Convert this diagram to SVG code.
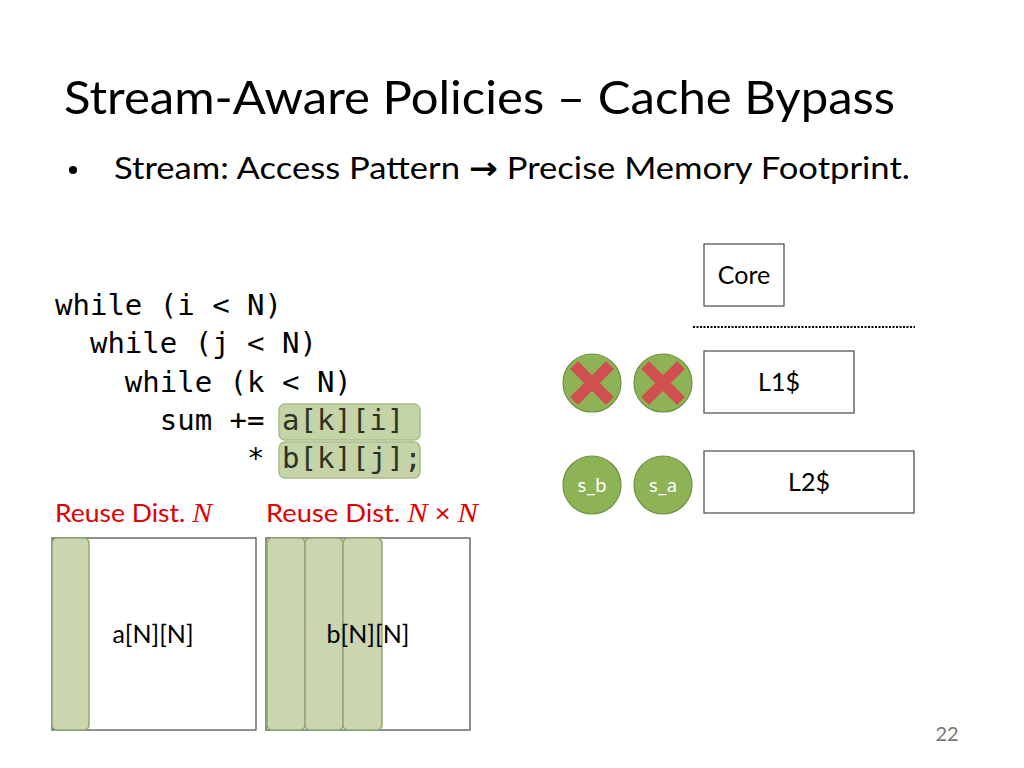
<svg xmlns="http://www.w3.org/2000/svg" width="1024" height="768" viewBox="0 0 1024 768">
<style>
.t{font-family:Lato,"Liberation Sans",sans-serif;fill:#000}
.c{font-family:"DejaVu Sans Mono",monospace;font-size:29px;fill:#000}
.box{fill:#fff;stroke:#555;stroke-width:1.3}
.hl{fill:#c5d3a8;stroke:#a9bd88;stroke-width:1.5}
.col{fill:#c9d6b0;stroke:#8fa870;stroke-width:1.5}
.ball{fill:#8db356;stroke:#6f9240;stroke-width:1.2}
.x{stroke:#d05050;stroke-width:11;stroke-linecap:butt}
.red{font-family:Lato,"Liberation Sans",sans-serif;font-size:25px;fill:#e00000}
</style>
<rect width="1024" height="768" fill="#fff"/>
<text class="t" x="64" y="114" font-size="47" textLength="831" lengthAdjust="spacingAndGlyphs">Stream-Aware Policies – Cache Bypass</text>
<circle cx="73" cy="170" r="4" fill="#000"/>
<text class="t" x="114" y="179" font-size="31" textLength="796" lengthAdjust="spacingAndGlyphs">Stream: Access Pattern <tspan font-family="DejaVu Sans" font-weight="bold">→</tspan> Precise Memory Footprint.</text>
<g id="code">
<rect class="hl" x="279" y="404" width="141" height="36" rx="6"/>
<rect class="hl" x="279" y="442" width="141" height="36" rx="6"/>
<text class="c" x="55" y="315">while (i &lt; N)</text>
<text class="c" x="55" y="353" xml:space="preserve">  while (j &lt; N)</text>
<text class="c" x="55" y="392" xml:space="preserve">    while (k &lt; N)</text>
<text class="c" x="55" y="430" xml:space="preserve">      sum += <tspan style="fill:#2e3324">a[k][i]</tspan></text>
<text class="c" x="55" y="468" xml:space="preserve">           * <tspan style="fill:#2e3324">b[k][j];</tspan></text>
</g>
<text class="red" x="55" y="522" textLength="157" lengthAdjust="spacingAndGlyphs">Reuse Dist. <tspan font-family="Liberation Serif" font-style="italic" font-size="28">N</tspan></text>
<text class="red" x="266" y="522" textLength="212" lengthAdjust="spacingAndGlyphs">Reuse Dist. <tspan font-family="Liberation Serif" font-style="italic" font-size="28">N</tspan> × <tspan font-family="Liberation Serif" font-style="italic" font-size="28">N</tspan></text>
<g id="arrA">
<rect class="box" x="52" y="538" width="204" height="192"/>
<rect class="col" x="52" y="538" width="37" height="192" rx="5"/>
<text class="t" x="153" y="643" font-size="25" text-anchor="middle">a[N][N]</text>
</g>
<g id="arrB">
<rect class="box" x="266" y="538" width="204" height="192"/>
<rect class="col" x="267" y="538" width="38" height="192" rx="5"/>
<rect class="col" x="305" y="538" width="38" height="192" rx="5"/>
<rect class="col" x="343" y="538" width="39" height="192" rx="5"/>
<text class="t" x="368" y="643" font-size="25" text-anchor="middle">b[N][N]</text>
</g>
<g id="core"><rect class="box" x="704" y="244" width="80" height="62"/><text class="t" x="744" y="284" font-size="25" text-anchor="middle">Core</text></g>
<line x1="693" y1="327" x2="915" y2="327" stroke="#000" stroke-width="2" stroke-dasharray="2,1.5"/>
<g id="l1"><rect class="box" x="704" y="351" width="150" height="62"/><text class="t" x="779" y="391" font-size="25" text-anchor="middle">L1$</text></g>
<g id="l2"><rect class="box" x="704" y="451" width="210" height="62"/><text class="t" x="809" y="491" font-size="25" text-anchor="middle">L2$</text></g>
<g id="balls">
<circle class="ball" cx="592" cy="383" r="29"/><circle class="ball" cx="663" cy="383" r="29"/>
<path class="x" d="M574,365 L610,401 M610,365 L574,401"/>
<path class="x" d="M645,365 L681,401 M681,365 L645,401"/>
<circle class="ball" cx="592" cy="485" r="29"/><circle class="ball" cx="663" cy="485" r="29"/>
<text class="t" x="592" y="492" font-size="20" style="fill:#fff" text-anchor="middle">s_b</text>
<text class="t" x="663" y="492" font-size="20" style="fill:#fff" text-anchor="middle">s_a</text>
</g>
<text class="t" x="947" y="741" font-size="20" style="fill:#777" text-anchor="middle">22</text>
</svg>
